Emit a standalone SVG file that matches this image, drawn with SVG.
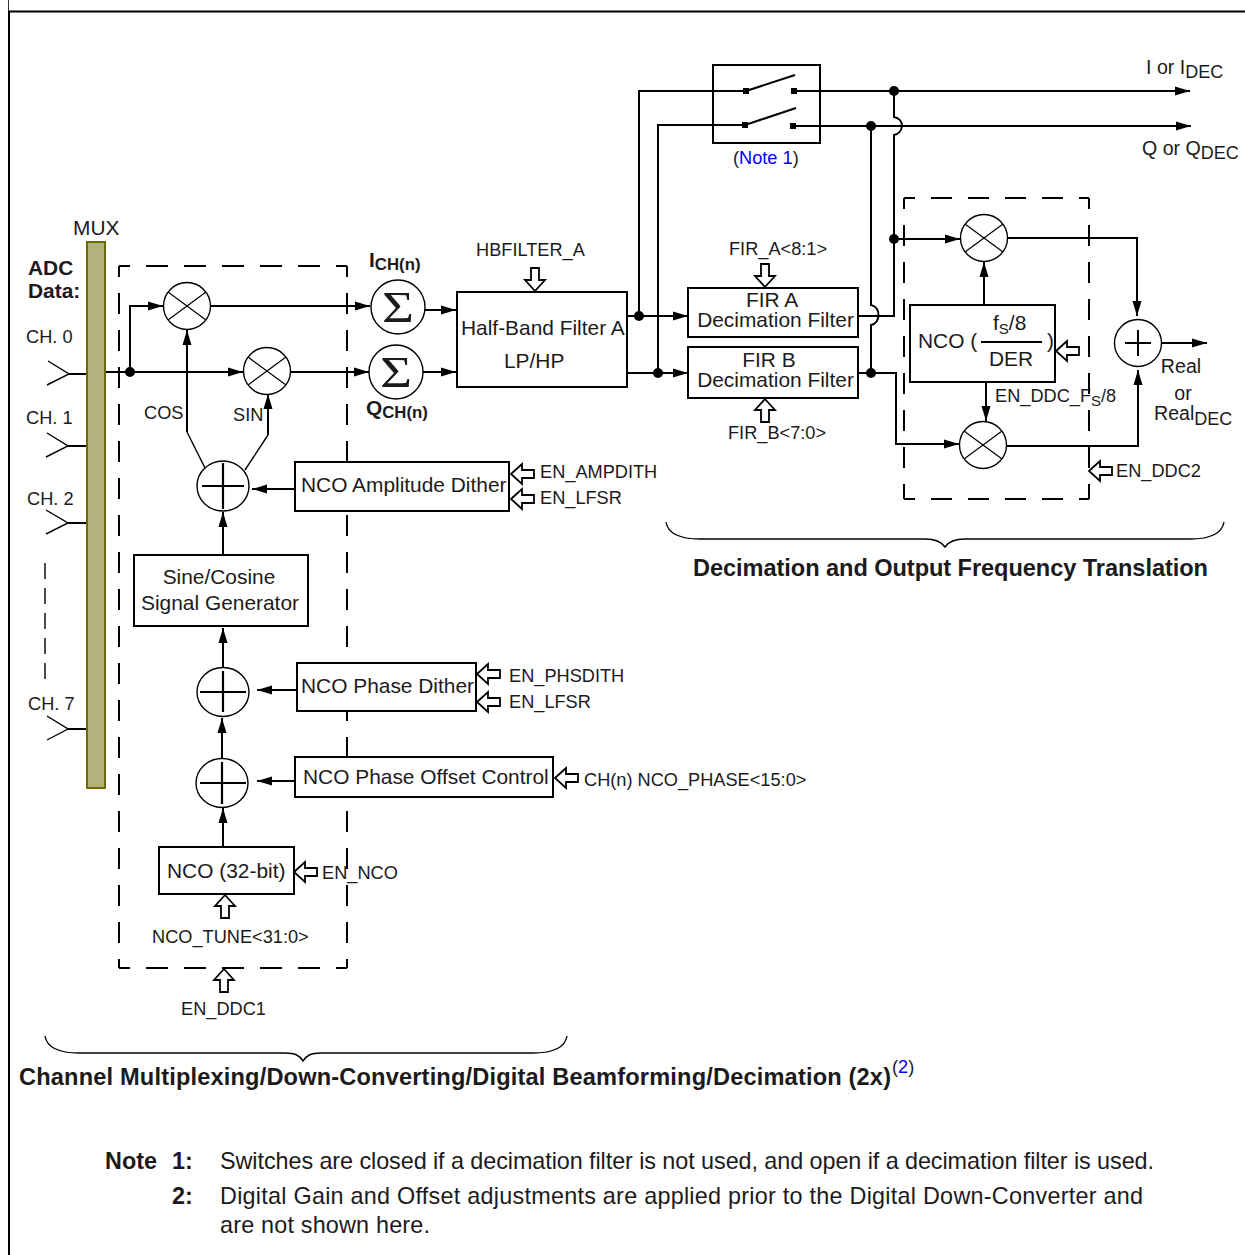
<svg xmlns="http://www.w3.org/2000/svg" width="1245" height="1255" viewBox="0 0 1245 1255">
<style>
text{font-family:"Liberation Sans",Arial,sans-serif;font-size:18.2px;fill:#1c1a1b}
.m{font-size:20.9px}
.l{font-size:19.6px}
.b{font-weight:bold}
.t{font-size:23.6px;font-weight:bold}
.n{font-size:23.4px}
.s{font-size:16.8px}
.u{font-size:18px}
.si{font-family:"Liberation Serif",serif;font-size:44px}
.link{fill:#0000ff}
.box{fill:#fff;stroke:#000;stroke-width:2}
.c{fill:#fff;stroke:#000;stroke-width:1.4}
.x{stroke:#000;stroke-width:1.2;fill:none}
.p{stroke:#000;stroke-width:2.2;fill:none}
.w{stroke:#000;stroke-width:2;fill:none}
.th{stroke:#000;stroke-width:1.4;fill:none}
.ar{marker-end:url(#a)}
.dh{stroke:#000;stroke-width:2;fill:none;stroke-dasharray:22 16;stroke-dashoffset:11}
.dv{stroke:#000;stroke-width:2;fill:none;stroke-dasharray:21 16;stroke-dashoffset:10}
.dot{fill:#000}
.ha{fill:#fff;stroke:#000;stroke-width:1.8}
</style>
<defs>
<marker id="a" markerUnits="userSpaceOnUse" markerWidth="15" markerHeight="10" refX="15" refY="5" orient="auto"><path d="M0,0.5 L15,5 L0,9.5 z" fill="#000"/></marker>
<path id="ha" d="M0,0 L11,-10 L11,-4 L23,-4 L23,4 L11,4 L11,10 z"/>
</defs>
<g id="frame">
<path d="M9,1255 V11.5 H1245" fill="none" stroke="#000" stroke-width="2"/>
<path d="M8.5,0 V11" fill="none" stroke="#000" stroke-width="0.8"/>
</g>
<g id="dashed-boxes">
<path class="dh" d="M119,266 H347 M119,968 H347"/>
<path class="dv" d="M119,266 V968 M347,266 V968"/>
<path class="dv" d="M904,198 H1089 M904,499 H1089"/>
<path class="dv" d="M904,198 V499 M1089,198 V499"/>
</g>
<g id="connectors">
<path class="th" d="M48,361 L69,374 L47,385"/><path class="w" d="M69,374 H87"/>
<path class="th" d="M47,433 L68,446 L46,457"/><path class="w" d="M68,446 H87"/>
<path class="th" d="M46,510 L68,523 L46,534"/><path class="w" d="M68,523 H87"/>
<path class="th" d="M47,716 L68,729 L47,740"/><path class="w" d="M68,729 H87"/>
<path class="th" d="M45,563 V680" stroke-dasharray="16 9"/>
<path class="w ar" d="M105,372 H243"/>
<path class="w ar" d="M130,372 V306 H163"/>
<path class="w ar" d="M211,306 H370"/>
<path class="w ar" d="M291,372 H369"/>
<path class="w ar" d="M425,310 H456"/>
<path class="w ar" d="M423,372 H456"/>
<path class="w ar" d="M187,432 V330"/>
<path class="w ar" d="M268,435 V394"/>
<path class="th" d="M187,432 L205,468 M268,435 L245,470"/>
<path class="w ar" d="M295,489 H252"/>
<path class="w ar" d="M223,555 V512"/>
<path class="w ar" d="M223,667 V628"/>
<path class="w ar" d="M297,690 H257"/>
<path class="w ar" d="M222,758 V718"/>
<path class="w ar" d="M295,781 H257"/>
<path class="w ar" d="M223,847 V808"/>
<path class="w ar" d="M627,316 H688"/>
<path class="w ar" d="M627,373 H688"/>
<path class="w" d="M639,316 V91 H746"/>
<path class="w" d="M658,373 V125 H745"/>
<path class="w ar" d="M794,91 H1190"/>
<path class="w ar" d="M793,126 H1191"/>
<path class="w" d="M746,91 L795,75 M745,125 L796,108"/>
<path class="w" d="M858,316 H894 V135 C904,133 905,119 894,117 V91"/>
<path class="w" d="M871,126 V305 C881,307 881,323 871,325 V373"/>
<path class="w ar" d="M858,373 H896 V444 H959"/>
<path class="w ar" d="M894,239 H960"/>
<path class="w ar" d="M1008,238 H1137 V316"/>
<path class="w ar" d="M984,305 V262"/>
<path class="w ar" d="M986,382 V421"/>
<path class="w ar" d="M1007,446 H1138 V370"/>
<path class="w ar" d="M1162,343 H1207"/>
<circle class="dot" cx="130" cy="372" r="5"/>
<circle class="dot" cx="639" cy="316" r="5"/>
<circle class="dot" cx="658" cy="373" r="5"/>
<circle class="dot" cx="894" cy="91" r="5"/>
<circle class="dot" cx="871" cy="126" r="5"/>
<circle class="dot" cx="894" cy="239" r="5"/>
<circle class="dot" cx="871" cy="373" r="5"/>
<rect class="dot" x="743" y="88" width="6" height="6"/>
<rect class="dot" x="791" y="88" width="6" height="6"/>
<rect class="dot" x="742" y="122" width="6" height="6"/>
<rect class="dot" x="790" y="123" width="6" height="6"/>
</g>
<g id="mux">
<rect x="87" y="242" width="18" height="546" fill="#b3b27f" stroke="#6b6b00" stroke-width="2"/>
<text class="m" x="73" y="235">MUX</text>
</g>
<g id="adc-labels">
<text class="m b" x="28" y="275">ADC</text>
<text class="m b" x="28" y="298">Data:</text>
<text x="26" y="343">CH. 0</text>
<text x="26" y="424">CH. 1</text>
<text x="27" y="505">CH. 2</text>
<text x="28" y="710">CH. 7</text>
</g>
<g id="mixer-i"><circle class="c" cx="187" cy="306" r="23.5"/><path class="x" d="M168,292 L206,320 M206,292 L168,320"/></g>
<g id="mixer-q"><circle class="c" cx="267" cy="371" r="23.5"/><path class="x" d="M248,357 L286,385 M286,357 L248,385"/></g>
<g id="sum-i"><circle class="c" cx="398" cy="307" r="27"/><text class="si" text-anchor="middle" transform="translate(398,322) scale(1.25,1)">Σ</text>
<text class="m b" x="369" y="267">I<tspan class="s" dy="3">CH(n)</tspan></text></g>
<g id="sum-q"><circle class="c" cx="396" cy="372" r="27"/><text class="si" text-anchor="middle" transform="translate(396,387) scale(1.25,1)">Σ</text>
<text class="m b" x="366" y="415">Q<tspan class="s" dy="3">CH(n)</tspan></text></g>
<g id="labels-cos-sin"><text x="144" y="419">COS</text><text x="233" y="421">SIN</text></g>
<g id="adder-amp"><ellipse class="c" cx="223" cy="486" rx="26" ry="25"/><path class="p" d="M202,486 H244 M223,463 V509"/></g>
<g id="adder-phase"><ellipse class="c" cx="223" cy="692" rx="26" ry="24.5"/><path class="p" d="M200,692 H246 M223,671 V712"/></g>
<g id="adder-offset"><ellipse class="c" cx="222" cy="783" rx="26" ry="24.5"/><path class="p" d="M200,783 H246 M222,762 V804"/></g>
<g id="nco-amp"><rect class="box" x="295" y="462" width="214" height="49"/><text class="m" x="301" y="492">NCO Amplitude Dither</text>
<use href="#ha" class="ha" transform="translate(511,474)"/><use href="#ha" class="ha" transform="translate(511,499)"/>
<text x="540" y="478">EN_AMPDITH</text><text x="540" y="504">EN_LFSR</text></g>
<g id="sine-cosine"><rect class="box" x="134" y="555" width="174" height="71"/><text class="m" x="219" y="584" text-anchor="middle">Sine/Cosine</text><text class="m" x="220" y="610" text-anchor="middle">Signal Generator</text></g>
<g id="nco-phase-dither"><rect class="box" x="297" y="663" width="179" height="48"/><text class="m" x="301" y="693">NCO Phase Dither</text>
<use href="#ha" class="ha" transform="translate(477,674)"/><use href="#ha" class="ha" transform="translate(477,702)"/>
<text x="509" y="682">EN_PHSDITH</text><text x="509" y="708">EN_LFSR</text></g>
<g id="nco-phase-offset"><rect class="box" x="295" y="757" width="258" height="40"/><text class="m" x="303" y="784">NCO Phase Offset Control</text>
<use href="#ha" class="ha" transform="translate(555,778)"/>
<text x="584" y="786">CH(n) NCO_PHASE&lt;15:0&gt;</text></g>
<g id="nco-32"><rect class="box" x="159" y="847" width="135" height="47"/><text class="m" x="167" y="878">NCO (32-bit)</text>
<use href="#ha" class="ha" transform="translate(294,872)"/>
<text x="322" y="879">EN_NCO</text>
<use href="#ha" class="ha" transform="translate(225,895) rotate(90)"/>
<text x="152" y="943">NCO_TUNE&lt;31:0&gt;</text></g>
<g id="en-ddc1"><use href="#ha" class="ha" transform="translate(224,969) rotate(90)"/><text x="181" y="1015">EN_DDC1</text></g>
<g id="half-band"><rect class="box" x="457" y="292" width="170" height="95"/><text class="m" x="461" y="335">Half-Band Filter A</text><text class="m" x="504" y="368">LP/HP</text>
<use href="#ha" class="ha" transform="translate(535,291) rotate(-90)"/>
<text x="476" y="256">HBFILTER_A</text></g>
<g id="fir-a"><rect class="box" x="688" y="288" width="170" height="49"/><text class="m" x="772" y="307" text-anchor="middle">FIR A</text><text class="m" x="775.500" y="327" text-anchor="middle">Decimation Filter</text>
<use href="#ha" class="ha" transform="translate(765,287) rotate(-90)"/>
<text x="729" y="255">FIR_A&lt;8:1&gt;</text></g>
<g id="fir-b"><rect class="box" x="688" y="347" width="170" height="51"/><text class="m" x="769" y="367" text-anchor="middle">FIR B</text><text class="m" x="775.500" y="387" text-anchor="middle">Decimation Filter</text>
<use href="#ha" class="ha" transform="translate(765,399) rotate(90)"/>
<text x="728" y="439">FIR_B&lt;7:0&gt;</text></g>
<g id="switch"><rect x="713" y="65" width="107" height="78" fill="none" stroke="#000" stroke-width="2"/>
<text x="733" y="164">(<tspan class="link">Note 1</tspan>)</text></g>
<g id="output-i"><text class="l" x="1146" y="74">I or I<tspan class="u" dy="4">DEC</tspan></text></g>
<g id="output-q"><text class="l" x="1142" y="155">Q or Q<tspan class="u" dy="4">DEC</tspan></text></g>
<g id="mixer-top"><circle class="c" cx="984" cy="238" r="23.5"/><path class="x" d="M965,224 L1003,252 M1003,224 L965,252"/></g>
<g id="mixer-bottom"><circle class="c" cx="983" cy="445" r="23.5"/><path class="x" d="M964,431 L1002,459 M1002,431 L964,459"/></g>
<g id="nco-der"><rect class="box" x="910" y="305" width="145" height="77"/>
<text class="m" x="918" y="348">NCO (</text><text class="m" x="993" y="330">f<tspan dy="4" style="font-size:15px">S</tspan><tspan dy="-4">/8</tspan></text>
<path class="w" d="M981,342 H1042"/>
<text class="m" x="989" y="366">DER</text><text class="m" x="1047" y="348">)</text>
<use href="#ha" class="ha" transform="translate(1056,351)"/>
<text x="995" y="402">EN_DDC_F<tspan dy="4" style="font-size:15px">S</tspan><tspan dy="-4">/8</tspan></text></g>
<g id="adder-out"><circle class="c" cx="1138" cy="343" r="23.5"/><path class="w" d="M1125,343 H1151 M1138,330 V356"/>
<text class="l" x="1181" y="373" text-anchor="middle">Real</text><text class="l" x="1183" y="400" text-anchor="middle">or</text>
<text class="l" x="1154" y="420">Real<tspan class="u" dy="5">DEC</tspan></text></g>
<g id="en-ddc2"><use href="#ha" class="ha" transform="translate(1089,471)"/><text x="1116" y="477">EN_DDC2</text></g>
<g id="braces">
<path class="th" d="M666,522 C668,534 680,539 700,539 H925 C935,539 941,541 945,547 C949,541 955,539 965,539 H1190 C1210,539 1222,534 1224,522"/>
<path class="th" d="M45,1036 C47,1048 59,1053 79,1053 H285 C295,1053 299,1055 303,1061 C307,1055 311,1053 321,1053 H533 C553,1053 565,1048 567,1036"/>
</g>
<g id="titles">
<text class="t" x="693" y="576" textLength="515">Decimation and Output Frequency Translation</text>
<text class="t" x="19" y="1085" textLength="872">Channel Multiplexing/Down-Converting/Digital Beamforming/Decimation (2x)</text>
<text x="892" y="1073">(<tspan class="link">2</tspan>)</text>
</g>
<g id="notes">
<text class="n b" x="105" y="1169">Note</text><text class="n b" x="172" y="1169">1:</text>
<text class="n" x="220" y="1169" textLength="934">Switches are closed if a decimation filter is not used, and open if a decimation filter is used.</text>
<text class="n b" x="172" y="1204">2:</text>
<text class="n" x="220" y="1204" textLength="923">Digital Gain and Offset adjustments are applied prior to the Digital Down-Converter and</text>
<text class="n" x="220" y="1233" textLength="210">are not shown here.</text>
</g>
</svg>
